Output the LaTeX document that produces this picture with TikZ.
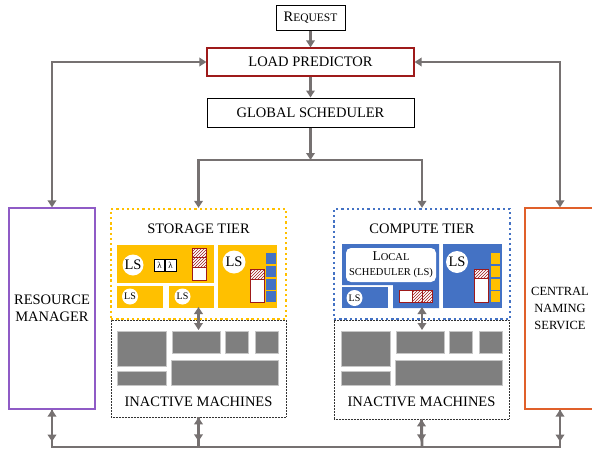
\documentclass[tikz,border=0pt]{standalone}
\usepackage{fontspec}
\setmainfont{Liberation Serif}
\usetikzlibrary{arrows.meta,patterns}
\definecolor{ayellow}{HTML}{FFC000}
\definecolor{ablue}{HTML}{4472C4}
\definecolor{ared}{HTML}{9E1A1A}
\definecolor{apurple}{HTML}{8F5BC6}
\definecolor{aorange}{HTML}{E0602A}
\definecolor{agray}{HTML}{767171}
\definecolor{mgray}{HTML}{7F7F7F}
\newcommand{\bigf}{\fontsize{14.5}{17.5}\selectfont}
\begin{document}
\begin{tikzpicture}[x=1pt,y=-1pt,
  box/.style={draw, line width=1pt, fill=white, inner sep=0pt, font=\bigf, align=center},
  conn/.style={draw=agray, line width=2.8pt},
  tipb/.style={-{Triangle[length=7pt,width=8.5pt]}},
  dbl/.style={{Triangle[length=7pt,width=8.5pt]}-{Triangle[length=7pt,width=8.5pt]}},
  tier/.style={line width=2.3pt, dash pattern=on 2.3pt off 2.9pt},
  inact/.style={draw=black!80, line width=0.7pt, dash pattern=on 0.7pt off 0.8pt},
  lsc/.style={circle, fill=white, inner sep=0pt},
  lbl/.style={font=\bigf, inner sep=0pt},
  hatch/.style={draw=ared, line width=0.8pt, preaction={fill=white}, pattern=north east lines, pattern color=ared},
  cell/.style={draw=ared, line width=0.8pt, fill=white},
  gbox/.style={fill=mgray, draw=gray!45, line width=0.5pt},
  lam/.style={draw=black, line width=0.6pt, fill=white, inner sep=0pt, minimum width=10.5pt, minimum height=12pt, font=\fontsize{9}{9}\selectfont}
]
\useasboundingbox (0,0) rectangle (592,450);

% top chain
\node[box, minimum width=69pt, minimum height=25pt] (req) at (310.5,17.5) {R{\fontsize{11.5}{12}\selectfont EQUEST}};
\node[box, draw=ared, line width=1.2pt, minimum width=207pt, minimum height=28pt] (lp) at (310.5,62) {LOAD PREDICTOR};
\node[box, minimum width=207pt, minimum height=29pt] (gs) at (310.5,112.5) {GLOBAL SCHEDULER};

% side boxes
\node[box, draw=apurple, line width=1.2pt, minimum width=86pt, minimum height=201pt] (rm) at (52,308.5) {RESOURCE\\MANAGER};
\node[box, draw=aorange, line width=1.2pt, minimum width=70pt, minimum height=201pt, font=\fontsize{12.5}{17}\selectfont] (cns) at (560,308.5) {CENTRAL\\NAMING\\SERVICE};

% inactive boxes
\node[inact, minimum width=175pt, minimum height=97pt] (sti) at (198.5,368.5) {};
\node[inact, minimum width=175pt, minimum height=99pt] (cti) at (421.5,369.5) {};

% storage tier contents
\fill[ayellow] (117,245) rectangle (214,283);
\fill[ayellow] (117,286) rectangle (163,308);
\fill[ayellow] (169,286) rectangle (214,308);
\fill[ayellow] (218,245) rectangle (277,308);
\node[lsc, minimum size=21pt, font=\bigf] (ls1) at (133,265) {LS};
\node[lam] (lam1) at (159.5,265) {λ};
\node[lam, anchor=west] (lam2) at (lam1.east) {λ};
\draw[hatch] (192,248) rectangle (206,257.5);
\draw[hatch] (192,257.5) rectangle (206,267);
\draw[cell] (192,267) rectangle (206,280);
\node[lsc, minimum size=16pt, font=\fontsize{10}{10}\selectfont] (ls2) at (130,296.5) {LS};
\node[lsc, minimum size=16pt, font=\fontsize{10}{10}\selectfont] (ls3) at (182.5,296.5) {LS};
\node[lsc, minimum size=23pt, font=\bigf] (ls4) at (234,262) {LS};
\draw[hatch] (250,269) rectangle (264,279);
\draw[cell] (250,279) rectangle (264,302);
\foreach \a/\b in {253/264,266/277,278.5/289.5,291/302}
  \fill[ablue] (266,\a) rectangle (276,\b);

% compute tier contents
\fill[ablue] (342,244) -- (439,244) -- (439,308) -- (393,308) -- (393,285) -- (342,285) -- cycle;
\fill[ablue] (342,287) rectangle (388,308);
\fill[ablue] (443,244) rectangle (502,308);
\node[fill=white, rounded corners=5pt, minimum width=90pt, minimum height=34pt, inner sep=0pt, align=center, font=\fontsize{13.5}{16}\selectfont] (lsbox) at (391,265)
  {L{\fontsize{10.5}{12}\selectfont OCAL}\\[-1pt]{\fontsize{10.5}{12}\selectfont SCHEDULER (LS)}};
\node[lsc, minimum size=16pt, font=\fontsize{10}{10}\selectfont] (ls5) at (354.5,298) {LS};
\draw[cell] (399,290) rectangle (412,302);
\draw[hatch] (412,290) rectangle (422,302);
\draw[hatch] (422,290) rectangle (432,302);
\node[lsc, minimum size=22pt, font=\bigf] (ls6) at (457,262) {LS};
\draw[hatch] (474,269) rectangle (488,278);
\draw[cell] (474,278) rectangle (488,302);
\foreach \a/\b in {253/264,266/277,278.5/289.5,291/302}
  \fill[ayellow] (491,\a) rectangle (500,\b);

% gray inactive machines
\foreach \dx in {0,224}{
  \begin{scope}[xshift=\dx]
  \fill[gbox] (117,331) rectangle (166,366);
  \fill[gbox] (172,331) rectangle (220,353);
  \fill[gbox] (225,331) rectangle (248,353);
  \fill[gbox] (255,331) rectangle (278,353);
  \fill[gbox] (117,371) rectangle (166,385);
  \fill[gbox] (171,360) rectangle (278,385);
  \end{scope}}
\node[lbl] (stil) at (198.5,402) {INACTIVE MACHINES};
\node[lbl] (ctil) at (421.5,402) {INACTIVE MACHINES};

% tier boxes
\node[tier, draw=ayellow, minimum width=175pt, minimum height=110pt, inner sep=0pt] (st) at (198.5,264) {};
\node[tier, draw=ablue, minimum width=176pt, minimum height=110pt, inner sep=0pt] (ct) at (422,264) {};
\node[lbl] (stl) at (198.5,229) {STORAGE TIER};
\node[lbl] (ctl) at (422,229) {COMPUTE TIER};

% connectors
\draw[conn,tipb] (req) -- (lp);
\draw[conn,tipb] (lp) -- (gs);
\coordinate (split) at (310.5,160);
\draw[conn,tipb] (gs) -- (split);
\draw[conn,tipb] (split) -| (st.north);
\draw[conn,tipb] (split) -| (ct.north);
\draw[conn,dbl] (rm.north) |- (lp.west);
\draw[conn,dbl] (cns.north) |- (lp.east);

\coordinate (sa1) at (198.5,307);
\coordinate (sa2) at (198.5,330);
\coordinate (ca1) at (422,307);
\coordinate (ca2) at (422,330);
\draw[conn,dbl] (sa1) -- (sa2);
\draw[conn,dbl] (ca1) -- (ca2);

\coordinate (bl) at (52,447);
\coordinate (br) at (560,447);
\coordinate (bs) at (198.5,447);
\coordinate (bc) at (422,447);
\draw[conn, line join=miter] (rm.south) -- (bl) -- (br) -- (cns.south);
\draw[conn] (sti.south) -- (bs);
\draw[conn] (cti.south) -- (bc);
\draw[conn,dbl] (rm.south) -- ++(0,32);
\draw[conn,dbl] (cns.south) -- ++(0,32);
\draw[conn,dbl] (sti.south) -- ++(0,24);
\draw[conn,dbl] (cti.south) -- ++(0,22);
\end{tikzpicture}
\end{document}
